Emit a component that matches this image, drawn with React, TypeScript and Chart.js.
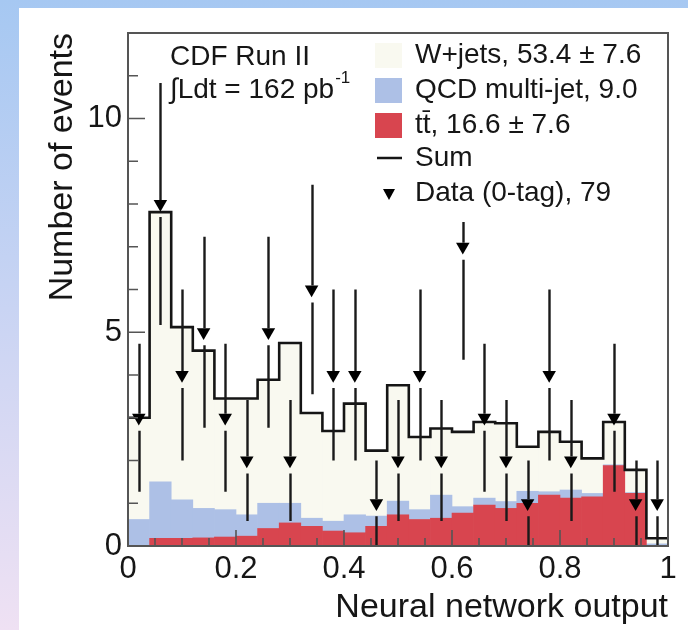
import React, { useEffect, useRef } from 'react';
import { Chart, registerables } from 'chart.js';

Chart.register(...registerables);

// ---- data (25 bins of width 0.04 on the neural network output) ----
const binCenters = [0.02, 0.06, 0.10, 0.14, 0.18, 0.22, 0.26, 0.30, 0.34, 0.38, 0.42, 0.46, 0.50,
  0.54, 0.58, 0.62, 0.66, 0.70, 0.74, 0.78, 0.82, 0.86, 0.90, 0.94, 0.98];
const binLowEdges = [0.00, 0.04, 0.08, 0.12, 0.16, 0.20, 0.24, 0.28, 0.32, 0.36, 0.40, 0.44, 0.48,
  0.52, 0.56, 0.60, 0.64, 0.68, 0.72, 0.76, 0.80, 0.84, 0.88, 0.92, 0.96];
const upperEdge = 1.0;

const ttbar = [0.00, 0.18, 0.18, 0.19, 0.21, 0.23, 0.41, 0.54, 0.46, 0.35, 0.31, 0.46, 0.73,
  0.62, 0.65, 0.77, 0.96, 0.88, 1.00, 1.19, 1.12, 1.15, 1.88, 1.23, 0.00];
const qcd = [0.62, 1.32, 0.90, 0.69, 0.64, 0.50, 0.59, 0.46, 0.19, 0.23, 0.42, 0.24, 0.32,
  0.23, 0.54, 0.15, 0.16, 0.16, 0.28, 0.08, 0.19, 0.08, 0.02, 0.02, 0.05];
const wjets = [2.38, 6.31, 4.04, 3.69, 2.60, 2.72, 2.89, 3.75, 2.46, 2.11, 2.60, 1.53, 2.71,
  1.70, 1.56, 1.75, 1.78, 1.83, 1.04, 1.40, 1.13, 0.82, 1.00, 0.53, 0.13];
const dataCounts = [3, 8, 4, 5, 3, 2, 5, 2, 6, 4, 4, 1, 2, 4, 2, 7, 3, 2, 1, 4, 2, 0, 3, 1, 1];

const xTickLabels = ['0', '0.2', '0.4', '0.6', '0.8', '1'];
const yTickLabels = ['0', '5', '10'];
const legendLabels = ['W+jets, 53.4 \u00b1 7.6', 'QCD multi-jet, 9.0', 'tt\u0304, 16.6 \u00b1 7.6', 'Sum', 'Data (0-tag), 79'];
const infoLines = ['CDF Run II', '\u222bLdt = 162 pb', '-1'];
const xTitle = 'Neural network output';
const yTitle = 'Number of events';

// ---- styles ----
const FONT = '"Liberation Sans", Arial, Helvetica, sans-serif';
const C_W = '#f9f9f0';
const C_QCD = '#adc0e6';
const C_TT = '#d8454f';
const C_LINE = '#151515';
const C_FRAME = '#555555';
const C_TEXT = '#161616';

const sumValues = binLowEdges.map((_, i) => ttbar[i] + qcd[i] + wjets[i]);

const rootPlugin = {
  id: 'rootStyle',
  afterDraw(chart: any) {
    const ctx = chart.ctx as CanvasRenderingContext2D;
    const xs = chart.scales.x;
    const ys = chart.scales.y;
    const area = chart.chartArea;
    ctx.save();

    // error bars for data
    ctx.strokeStyle = '#1a1a1a';
    ctx.lineWidth = 2.4;
    dataCounts.forEach((n, i) => {
      if (n <= 0) return;
      const px = Math.round(xs.getPixelForValue(binCenters[i])) + 0.5;
      const py = ys.getPixelForValue(n);
      const e = Math.sqrt(n);
      const top = ys.getPixelForValue(n + e);
      const bot = ys.getPixelForValue(Math.max(0, n - e));
      ctx.beginPath();
      ctx.moveTo(px, top);
      ctx.lineTo(px, py - 4);
      ctx.moveTo(px, Math.min(py + 13, bot));
      ctx.lineTo(px, bot);
      ctx.stroke();
    });

    // frame
    ctx.strokeStyle = C_FRAME;
    ctx.lineWidth = 2;
    ctx.strokeRect(area.left, area.top, area.right - area.left, area.bottom - area.top);

    // ticks (inside the frame)
    ctx.lineWidth = 1.6;
    ctx.beginPath();
    ys.ticks.forEach((t: any) => {
      const v = Math.round(t.value);
      const py = ys.getPixelForValue(t.value);
      const len = v % 5 === 0 ? 17 : 10;
      ctx.moveTo(area.left, py);
      ctx.lineTo(area.left + len, py);
    });
    xs.ticks.forEach((t: any) => {
      const k = Math.round(t.value * 100);
      const px = xs.getPixelForValue(t.value);
      const len = k % 20 === 0 ? 16 : 8;
      ctx.moveTo(px, area.bottom);
      ctx.lineTo(px, area.bottom - len);
    });
    ctx.stroke();

    // legend box (white, no border)
    ctx.fillStyle = '#ffffff';
    ctx.fillRect(366, area.top + 2, area.right - 368, 187);

    const rowY = [55, 90, 125, 158, 193];
    const boxX = 375;
    const textX = 415;
    const swatches = [C_W, C_QCD, C_TT];
    swatches.forEach((c, i) => {
      ctx.fillStyle = c;
      ctx.fillRect(boxX, rowY[i] - 12, 27, 25);
    });
    ctx.strokeStyle = C_LINE;
    ctx.lineWidth = 2.5;
    ctx.beginPath();
    ctx.moveTo(boxX + 2, rowY[3]);
    ctx.lineTo(boxX + 27, rowY[3]);
    ctx.stroke();
    // data marker
    ctx.fillStyle = '#000';
    ctx.beginPath();
    const tx = boxX + 14, ty = rowY[4];
    ctx.moveTo(tx - 6, ty - 4);
    ctx.lineTo(tx + 6, ty - 4);
    ctx.lineTo(tx, ty + 7);
    ctx.closePath();
    ctx.fill();

    ctx.fillStyle = C_TEXT;
    ctx.font = `28px ${FONT}`;
    ctx.textBaseline = 'middle';
    ctx.textAlign = 'left';
    legendLabels.forEach((s, i) => ctx.fillText(s, textX, rowY[i]));

    // CDF info text
    ctx.fillText(infoLines[0], 170, 57);
    const w1 = ctx.measureText(infoLines[1]).width;
    ctx.fillText(infoLines[1], 170, 90);
    ctx.font = `17px ${FONT}`;
    ctx.fillText(infoLines[2], 170 + w1 + 1, 78);

    ctx.restore();
  },
};

export default function App() {
  const ref = useRef<HTMLCanvasElement>(null);

  useEffect(() => {
    const canvas = ref.current;
    if (!canvas) return;

    const barData = (vals: number[]) => binCenters.map((x, i) => ({ x, y: vals[i] }));
    const sumLine = binLowEdges.map((x, i) => ({ x, y: sumValues[i] }));
    sumLine.push({ x: upperEdge, y: sumValues[sumValues.length - 1] });
    const dataPts = binCenters.map((x, i) => ({ x, y: dataCounts[i] > 0 ? dataCounts[i] : null }));

    const chart = new Chart(canvas, {
      type: 'bar',
      data: {
        datasets: [
          {
            type: 'line',
            label: 'Data',
            data: dataPts as any,
            showLine: false,
            pointStyle: 'triangle',
            rotation: 180,
            pointRadius: 7.8,
            pointBackgroundColor: '#000',
            pointBorderWidth: 0,
            stack: 'data',
            order: 0,
          } as any,
          {
            type: 'line',
            label: 'Sum',
            data: sumLine,
            stepped: 'before',
            borderColor: C_LINE,
            borderWidth: 2.6,
            pointRadius: 0,
            fill: false,
            stack: 'sum',
            order: 1,
          } as any,
          {
            label: 'ttbar',
            data: barData(ttbar),
            backgroundColor: C_TT,
            borderWidth: 0,
            barPercentage: 1,
            categoryPercentage: 1,
            stack: 'mc',
            order: 2,
          } as any,
          {
            label: 'QCD',
            data: barData(qcd),
            backgroundColor: C_QCD,
            borderWidth: 0,
            barPercentage: 1,
            categoryPercentage: 1,
            stack: 'mc',
            order: 3,
          } as any,
          {
            label: 'W+jets',
            data: barData(wjets),
            backgroundColor: C_W,
            borderWidth: 0,
            barPercentage: 1,
            categoryPercentage: 1,
            stack: 'mc',
            order: 4,
          } as any,
        ],
      },
      options: {
        animation: false,
        responsive: false,
        devicePixelRatio: 1,
        layout: { padding: { left: 20, right: 20, top: 33, bottom: 2 } },
        plugins: { legend: { display: false }, tooltip: { enabled: false } },
        scales: {
          x: {
            type: 'linear',
            min: 0,
            max: 1,
            offset: false,
            grid: { display: false, drawTicks: false },
            border: { display: false },
            ticks: {
              stepSize: 0.05,
              autoSkip: false,
              maxRotation: 0,
              padding: 5,
              color: C_TEXT,
              font: { family: FONT, size: 31 },
              callback: (v: any) => {
                const k = Math.round(Number(v) * 100);
                return k % 20 === 0 ? xTickLabels[k / 20] : '';
              },
            },
            title: {
              display: true,
              text: xTitle,
              align: 'end',
              color: C_TEXT,
              font: { family: FONT, size: 34 },
              padding: { top: 0, bottom: 0 },
            },
            afterFit: (s: any) => { s.height = 82; },
          },
          y: {
            min: 0,
            max: 12,
            stacked: true,
            grid: { display: false, drawTicks: false },
            border: { display: false },
            ticks: {
              stepSize: 1,
              autoSkip: false,
              padding: 6,
              color: C_TEXT,
              font: { family: FONT, size: 31 },
              callback: (v: any) => {
                const n = Math.round(Number(v));
                return n % 5 === 0 ? yTickLabels[n / 5] : '';
              },
            },
            title: {
              display: true,
              text: yTitle,
              align: 'end',
              color: C_TEXT,
              font: { family: FONT, size: 34 },
              padding: { top: 22, bottom: 0 },
            },
            afterFit: (s: any) => { s.width = 108; },
          },
        },
      } as any,
      plugins: [rootPlugin],
    });

    return () => chart.destroy();
  }, []);

  return (
    <div
      style={{
        position: 'absolute',
        left: 0,
        top: 0,
        width: 688,
        height: 630,
        overflow: 'hidden',
        background: 'linear-gradient(180deg, #a6c8f2 0%, #c6d3f3 45%, #efe1f3 100%)',
      }}
    >
      <div style={{ position: 'absolute', left: 19, top: 8, right: 0, bottom: 0, background: '#ffffff' }} />
      <canvas
        ref={ref}
        width={688}
        height={630}
        style={{ position: 'absolute', left: 0, top: 0, width: 688, height: 630 }}
      />
    </div>
  );
}
